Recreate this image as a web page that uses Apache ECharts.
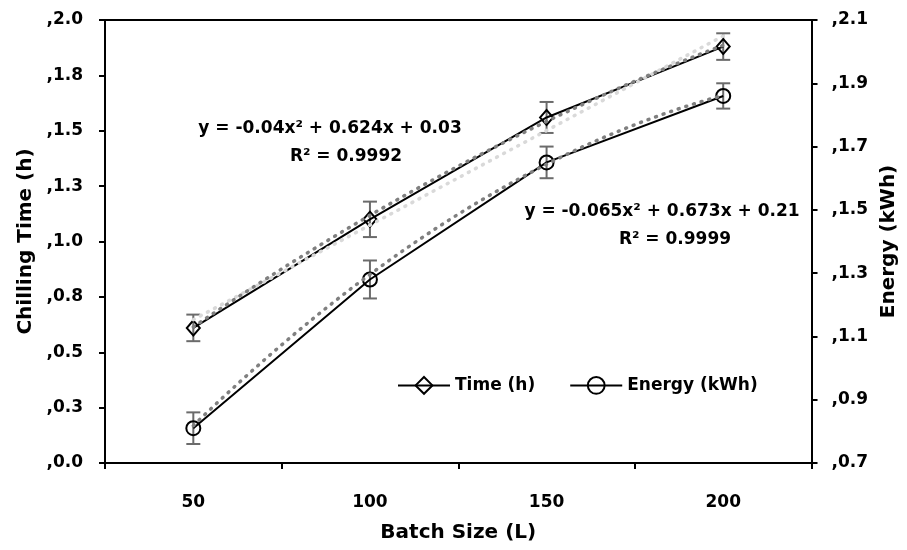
<!DOCTYPE html>
<html>
<head>
<meta charset="utf-8">
<script src="https://cdn.jsdelivr.net/npm/echarts@6/dist/echarts.min.js"></script>
<style>
  html, body { margin: 0; padding: 0; background: #fff; }
  #chart { width: 907px; height: 550px; }
</style>
</head>
<body>
<div id="chart"></div>
<script>
// Batch size categories and measured values
const categories = ['50', '100', '150', '200'];
const timeValues = [0.61, 1.10, 1.56, 1.88];     // Chilling time (h), left axis
const energyValues = [0.81, 1.28, 1.65, 1.86];   // Energy (kWh), right axis
const timeErrors = [0.06, 0.08, 0.07, 0.06];
const energyErrors = [0.05, 0.06, 0.05, 0.04];

// Second-order trendline coefficients [a, b, c] for y = a x^2 + b x + c
const timeFit = [-0.04, 0.624, 0.03];
const energyFit = [-0.065, 0.673, 0.21];

// Axis tick labels
const leftTickLabels = [',0.0', ',0.3', ',0.5', ',0.8', ',1.0', ',1.3', ',1.5', ',1.8', ',2.0'];
const rightTickLabels = [',0.7', ',0.9', ',1.1', ',1.3', ',1.5', ',1.7', ',1.9', ',2.1'];

const FONT = '"DejaVu Sans"';

function polyCurve(coef) {
  const pts = [];
  for (let i = 0; i <= 60; i++) {
    const x = 1 + i * 0.05;
    pts.push([x, coef[0] * x * x + coef[1] * x + coef[2]]);
  }
  return pts;
}

// Least-squares straight line through the time points (x = 1..n)
function linearTrend(vals) {
  const n = vals.length;
  const xs = vals.map((_, i) => i + 1);
  const mx = xs.reduce((a, b) => a + b, 0) / n;
  const my = vals.reduce((a, b) => a + b, 0) / n;
  let sxy = 0, sxx = 0;
  xs.forEach((x, i) => { sxy += (x - mx) * (vals[i] - my); sxx += (x - mx) * (x - mx); });
  const slope = sxy / sxx, icpt = my - slope * mx;
  return [[1, slope + icpt], [n, slope * n + icpt]];
}

function errorBarSeries(name, vals, errs, yIndex) {
  return {
    name: name,
    type: 'custom',
    xAxisIndex: 0,
    yAxisIndex: yIndex,
    z: 3,
    data: vals.map((v, i) => [i, v - errs[i], v + errs[i]]),
    renderItem: function (params, api) {
      const lo = api.coord([api.value(0), api.value(1)]);
      const hi = api.coord([api.value(0), api.value(2)]);
      const w = 7;
      const style = { stroke: '#6b6b6b', lineWidth: 2 };
      return {
        type: 'group',
        children: [
          { type: 'line', shape: { x1: lo[0], y1: lo[1], x2: hi[0], y2: hi[1] }, style: style },
          { type: 'line', shape: { x1: lo[0] - w, y1: lo[1], x2: lo[0] + w, y2: lo[1] }, style: style },
          { type: 'line', shape: { x1: hi[0] - w, y1: hi[1], x2: hi[0] + w, y2: hi[1] }, style: style }
        ]
      };
    },
    tooltip: { show: false }
  };
}

const tickFont = { fontFamily: 'DejaVu Sans', fontWeight: 'bold', fontSize: 17, color: '#000' };
const titleFont = { fontFamily: 'DejaVu Sans', fontWeight: 'bold', fontSize: 20, color: '#000' };
const dots = [1, 7];

const chart = echarts.init(document.getElementById('chart'), null, { renderer: 'canvas' });
chart.setOption({
  animation: false,
  backgroundColor: '#fff',
  grid: { left: 105, right: 95, top: 20, bottom: 87, containLabel: false },
  legend: {
    left: 392, top: 371,
    itemWidth: 52, itemHeight: 21, itemGap: 34,
    data: ['Time (h)', 'Energy (kWh)'],
    textStyle: { fontFamily: 'DejaVu Sans', fontWeight: 'bold', fontSize: 17, color: '#000' }
  },
  xAxis: [
    {
      type: 'category',
      data: categories,
      position: 'bottom',
      name: 'Batch Size (L)',
      nameLocation: 'middle',
      nameGap: 60,
      nameTextStyle: titleFont,
      axisLine: { lineStyle: { color: '#000', width: 2 } },
      axisTick: { show: true, length: 6, lineStyle: { color: '#000', width: 2 } },
      axisLabel: Object.assign({ margin: 31 }, tickFont),
      splitLine: { show: false }
    },
    {
      // fractional x scale for trendlines; its line closes the top of the plot
      type: 'value',
      position: 'top',
      min: 0.5, max: 4.5,
      axisLine: { show: true, onZero: false, lineStyle: { color: '#000', width: 2 } },
      axisTick: { show: false },
      axisLabel: { show: false },
      splitLine: { show: false }
    }
  ],
  yAxis: [
    {
      type: 'value',
      position: 'left',
      min: 0, max: 2, interval: 0.25,
      name: 'Chilling Time (h)',
      nameLocation: 'middle',
      nameRotate: 90,
      nameGap: 63,
      nameTextStyle: titleFont,
      axisLine: { show: true, lineStyle: { color: '#000', width: 2 } },
      axisTick: { show: true, length: 6, lineStyle: { color: '#000', width: 2 } },
      axisLabel: Object.assign({
        margin: 22,
        formatter: function (v) { return leftTickLabels[Math.round(v / 0.25)]; }
      }, tickFont),
      splitLine: { show: false }
    },
    {
      type: 'value',
      position: 'right',
      min: 0.7, max: 2.1, interval: 0.2,
      name: 'Energy (kWh)',
      nameLocation: 'middle',
      nameRotate: 90,
      nameGap: 61,
      nameTextStyle: titleFont,
      axisLine: { show: true, lineStyle: { color: '#000', width: 2 } },
      axisTick: { show: true, length: 6, lineStyle: { color: '#000', width: 2 } },
      axisLabel: Object.assign({
        margin: 20,
        formatter: function (v) { return rightTickLabels[Math.round((v - 0.7) / 0.2)]; }
      }, tickFont),
      splitLine: { show: false }
    }
  ],
  series: [
    errorBarSeries('timeErr', timeValues, timeErrors, 0),
    errorBarSeries('energyErr', energyValues, energyErrors, 1),
    {
      name: 'Time (h)',
      type: 'line',
      xAxisIndex: 0, yAxisIndex: 0,
      data: timeValues,
      z: 4,
      symbol: 'diamond',
      symbolSize: [13, 15],
      lineStyle: { color: '#000', width: 2 },
      itemStyle: { color: 'rgba(255,255,255,0)', borderColor: '#000', borderWidth: 2 }
    },
    {
      name: 'Energy (kWh)',
      type: 'line',
      xAxisIndex: 0, yAxisIndex: 1,
      data: energyValues,
      z: 4,
      symbol: 'circle',
      symbolSize: 14,
      lineStyle: { color: '#000', width: 2 },
      itemStyle: { color: 'rgba(255,255,255,0)', borderColor: '#000', borderWidth: 2 }
    },
    {
      name: 'timeLinear',
      type: 'line',
      xAxisIndex: 1, yAxisIndex: 0,
      data: linearTrend(timeValues),
      showSymbol: false, symbol: 'none', z: 5,
      lineStyle: { color: '#d9d9d9', width: 3.5, type: dots, cap: 'round' }
    },
    {
      name: 'timePoly',
      type: 'line',
      xAxisIndex: 1, yAxisIndex: 0,
      data: polyCurve(timeFit),
      showSymbol: false, symbol: 'none', z: 5,
      lineStyle: { color: '#808080', width: 3.5, type: dots, cap: 'round' }
    },
    {
      name: 'energyPoly',
      type: 'line',
      xAxisIndex: 1, yAxisIndex: 1,
      data: polyCurve(energyFit),
      showSymbol: false, symbol: 'none', z: 5,
      lineStyle: { color: '#808080', width: 3.5, type: dots, cap: 'round' }
    }
  ],
  graphic: [
    {
      type: 'text', x: 330, y: 129,
      style: { text: 'y = -0.04x² + 0.624x + 0.03', align: 'center', verticalAlign: 'middle',
               font: 'bold 17px ' + FONT, fill: '#000' }
    },
    {
      type: 'text', x: 346, y: 157,
      style: { text: 'R² = 0.9992', align: 'center', verticalAlign: 'middle',
               font: 'bold 17px ' + FONT, fill: '#000' }
    },
    {
      type: 'text', x: 662, y: 212,
      style: { text: 'y = -0.065x² + 0.673x + 0.21', align: 'center', verticalAlign: 'middle',
               font: 'bold 17px ' + FONT, fill: '#000' }
    },
    {
      type: 'text', x: 675, y: 240,
      style: { text: 'R² = 0.9999', align: 'center', verticalAlign: 'middle',
               font: 'bold 17px ' + FONT, fill: '#000' }
    }
  ]
});
</script>
</body>
</html>
